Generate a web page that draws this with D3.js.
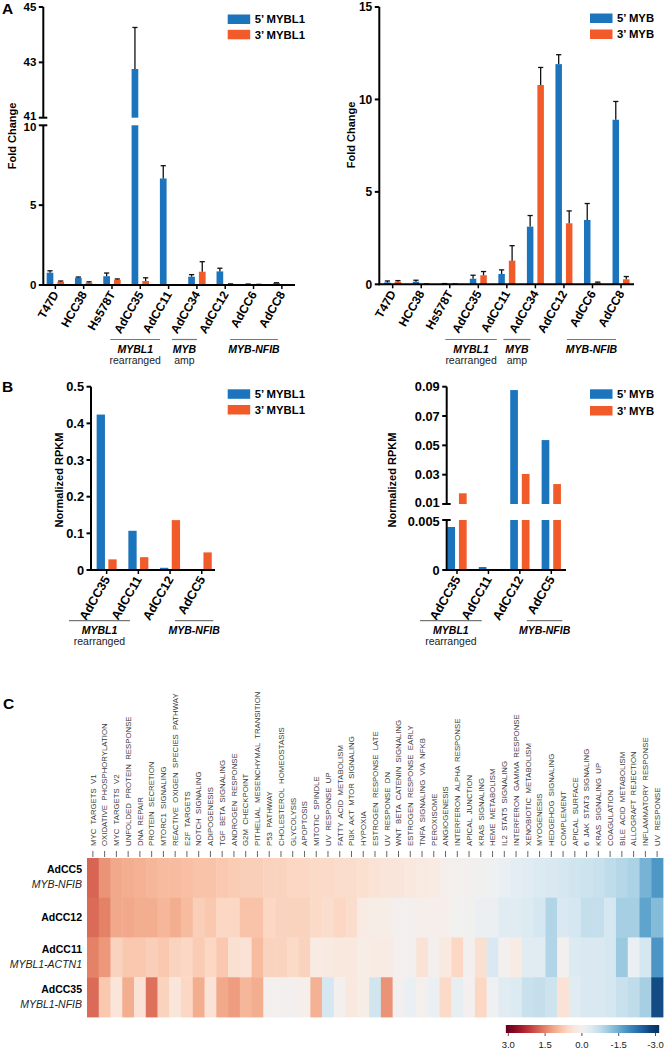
<!DOCTYPE html>
<html><head><meta charset="utf-8">
<script src="https://cdn.jsdelivr.net/npm/d3@7"></script>
<style>body{margin:0;background:#fff} text{font-family:Arial,"Liberation Sans",sans-serif}</style>
</head><body><svg id="c" width="664" height="1050"></svg>
<script>
// ---------- DATA ----------
const cellLines = ["T47D","HCC38","Hs578T","AdCC35","AdCC11","AdCC34","AdCC12","AdCC6","AdCC8"];
const mybl1Five = [0.77,0.45,0.55,42.76,6.67,0.52,0.85,0.04,0.12];
const mybl1FiveErr = [0.12,0.05,0.2,1.5,0.8,0.13,0.2,0.02,0.02];
const mybl1Three = [0.2,0.15,0.33,0.25,0,0.83,0.05,0.03,0.01];
const mybl1ThreeErr = [0.05,0.05,0.05,0.2,0,0.63,0.02,0.01,0.01];
const mybFive = [0.1,0.14,0.03,0.3,0.56,3.12,11.91,3.48,8.9];
const mybFiveErr = [0.08,0.08,0.01,0.19,0.22,0.6,0.51,0.89,0.99];
const mybThree = [0.14,0.01,0.01,0.49,1.28,10.78,3.3,0.09,0.27];
const mybThreeErr = [0.06,0.01,0.01,0.2,0.81,0.95,0.67,0.03,0.15];

const rnaSamples = ["AdCC35","AdCC11","AdCC12","AdCC5"];
const rpkmMybl1Five = [0.424,0.107,0.006,0];
const rpkmMybl1Three = [0.029,0.035,0.136,0.048];
const rpkmMybFive = [0.0043,0.0003,0.0877,0.0536];
const rpkmMybThree = [0.0173,0,0.0305,0.0236];

const ticksA1Low = [0,5,10], ticksA1High = [41,43,45];
const ticksA2 = [0,5,10,15];
const ticksB1 = [0,0.1,0.2,0.3,0.4,0.5];
const ticksB2Low = [0,0.005], ticksB2High = [0.01,0.03,0.05,0.07,0.09];

const pathways = ["MYC  TARGETS  V1","OXIDATIVE  PHOSPHORYLATION","MYC  TARGETS  V2","UNFOLDED  PROTEIN  RESPONSE","DNA  REPAIR","PROTEIN  SECRETION","MTORC1  SIGNALING","REACTIVE  OXIGEN  SPECIES  PATHWAY","E2F  TARGETS","NOTCH  SIGNALING","ADIPOGENESIS","TGF  BETA  SIGNALING","ANDROGEN  RESPONSE","G2M  CHECKPOINT","PITHELIAL  MESENCHYMAL  TRANSITION","P53  PATHWAY","CHOLESTEROL  HOMEOSTASIS","GLYCOLYSIS","APOPTOSIS","MITOTIC  SPINDLE","UV  RESPONSE  UP","FATTY  ACID  METABOLISM","PI3K  AKT  MTOR  SIGNALING","HYPOXIA","ESTROGEN  RESPONSE  LATE","UV  RESPONSE  DN","WNT  BETA  CATENIN  SIGNALING","ESTROGEN  RESPONSE  EARLY","TNFA  SIGNALING  VIA  NFKB","PEROXISOME","ANGIOGENESIS","INTERFERON  ALPHA  RESPONSE","APICAL  JUNCTION","KRAS  SIGNALING","HEME  METABOLISM","IL2  STAT5  SIGNALING","INTERFERON  GAMMA  RESPONSE","XENOBIOTIC  METABOLISM","MYOGENESIS","HEDGEHOG  SIGNALING","COMPLEMENT","APICAL  SURFACE","6  JAK  STAT3  SIGNALING","KRAS  SIGNALING  UP","COAGULATION","BILE  ACID  METABOLISM","ALLOGRAFT  REJECTION","INFLAMMATORY  RESPONSE","UV  RESPONSE"];
const rowSamples = ["AdCC5","AdCC12","AdCC11","AdCC35"];
const rowSubtypes = ["MYB-NFIB","","MYBL1-ACTN1","MYBL1-NFIB"];
const nesAdCC5 = [1.75,1.35,1.15,1.1,1.05,1.0,0.95,0.95,0.9,0.85, 0.85,0.8,0.75,0.7,0.7,0.65,0.65,0.6,0.6,0.55, 0.55,0.5,0.5,0.45,0.4,0.35,0.35,0.3,0.25,0.2, 0.1,0.05,0.0,-0.05,-0.1,-0.2,-0.3,-0.35,-0.4,-0.45, -0.5,-0.55,-0.6,-0.65,-0.75,-0.85,-0.95,-1.4,-1.75];
const nesAdCC12 = [1.7,1.5,1.15,1.15,1.1,1.1,1.0,1.1,0.95,0.7, 0.8,0.6,0.6,0.85,0.85,0.6,0.65,0.65,0.65,0.55, 0.5,0.6,0.5,0.2,0.15,0.15,0.0,0.0,0.1,0.1, 0.1,-0.05,-0.05,-0.15,-0.15,-0.35,-0.35,-0.4,-0.5,-0.9, -0.45,-0.5,-0.7,-0.7,-0.5,-1.0,-1.0,-1.6,-1.3];
const nesAdCC11 = [1.5,1.3,0.65,0.8,0.8,0.7,0.8,0.65,0.6,0.75, 0.6,0.8,0.45,0.4,0.95,0.65,0.65,0.55,0.65,0.2, 0.25,0.3,0.3,0.15,0.2,0.2,0.0,0.0,0.4,0.05, 0.25,0.6,0.0,0.45,-0.45,0.0,0.2,-0.35,-0.35,-0.9, 0.0,-0.4,-0.45,-0.45,-0.5,-1.1,-0.2,-0.5,-1.8];
const nesAdCC35 = [1.7,0.8,0.35,1.1,0.4,1.65,0.65,0.35,0.6,1.1, 0.4,1.15,1.25,1.0,1.1,0.0,0.05,0.0,0.1,1.05, -0.5,0.0,0.3,0.15,-0.55,1.35,0.0,-0.2,0.05,-0.2, 0.55,-0.25,0.0,0.6,-0.1,-0.35,-0.4,-0.65,-0.7,-0.6, 0.4,-0.35,-0.45,-0.45,-0.5,-0.65,-0.75,-1.0,-2.7];
const colorTicks = [3.0,1.5,0.0,-1.5,-3.0];

// ---------- DRAW ----------
const svg = d3.select("#c");
svg.append("rect").attr("width",664).attr("height",1050).attr("fill","#fff");
const BLUE = "#1c75bc", ORANGE = "#f15a29";

function barPanel(cfg) {
  const g = svg.append("g");
  const x = d3.scaleBand().domain(cfg.categories).range(cfg.xRange);
  const sub = d3.scalePoint().domain([0,1]).range([-cfg.sep/2, cfg.sep/2]);
  const segs = cfg.segments.map(s => Object.assign({}, s, {y: d3.scaleLinear().domain(s.d).range(s.r)}));
  const cx = c => x(c) + x.bandwidth()/2;
  const ax = cfg.axisX, y0 = segs[0].r[0];
  cfg.series.forEach((s, si) => {
    s.values.forEach((v, i) => {
      const c = cfg.categories[i];
      const bc = cx(c) + sub(si);
      segs.forEach(sg => {
        if (v > sg.d[0]) {
          const top = sg.y(Math.min(v, sg.d[1])), bot = sg.y(sg.d[0]);
          g.append("rect").attr("x", bc - cfg.barW/2).attr("y", top)
            .attr("width", cfg.barW).attr("height", Math.max(0.6, bot - top)).attr("fill", s.color);
        }
      });
      if (s.errors && s.errors[i] > 0) {
        const sg = segs.find(q => v >= q.d[0] && v <= q.d[1]);
        if (sg) {
          const yt = sg.y(v + s.errors[i]), yb = sg.y(v);
          g.append("line").attr("x1", bc).attr("x2", bc).attr("y1", yb).attr("y2", yt)
            .attr("stroke", "#111").attr("stroke-width", 1.3);
          g.append("line").attr("x1", bc - 2.6).attr("x2", bc + 2.6).attr("y1", yt).attr("y2", yt)
            .attr("stroke", "#111").attr("stroke-width", 1.3);
        }
      }
    });
  });
  // y axis segments
  segs.forEach((sg, k) => {
    g.append("line").attr("x1", ax).attr("x2", ax).attr("y1", sg.r[0] + (k === 0 ? 1 : 0)).attr("y2", sg.r[1])
      .attr("stroke", "#000").attr("stroke-width", 2);
    sg.ticks.forEach(t => {
      const yy = sg.y(t);
      const upperBreak = segs.length > 1 && k === 0 && t === sg.d[1];
      const lowerBreak = segs.length > 1 && k > 0 && t === sg.d[0];
      const isBreak = upperBreak || lowerBreak;
      const shift = upperBreak ? 1.8 : (lowerBreak ? -1.8 : 0);
      g.append("line").attr("x1", ax - 4.5).attr("x2", isBreak ? ax + 4 : ax).attr("y1", yy).attr("y2", yy)
        .attr("stroke", "#000").attr("stroke-width", 2);
      g.append("text").attr("x", ax - 7).attr("y", yy + shift).attr("dy", "0.36em").attr("text-anchor", "end")
        .attr("font-size", cfg.tickFont).attr("font-weight", "bold").text(cfg.fmt(t));
    });
  });
  // x axis
  g.append("line").attr("x1", ax - 1).attr("x2", cfg.xEnd).attr("y1", y0).attr("y2", y0)
    .attr("stroke", "#000").attr("stroke-width", 2);
  cfg.categories.forEach(c => {
    g.append("line").attr("x1", cx(c)).attr("x2", cx(c)).attr("y1", y0).attr("y2", y0 + 4)
      .attr("stroke", "#000").attr("stroke-width", 1.5);
    g.append("text").attr("transform", `translate(${cx(c)},${y0 + 7}) rotate(-60)`)
      .attr("dy", "0.36em").attr("text-anchor", "end").attr("font-size", cfg.xFont).attr("font-weight", "bold").text(c);
  });
  // y label
  g.append("text").attr("transform", `translate(${cfg.ylabel[0]},${cfg.ylabel[1]}) rotate(-90)`)
    .attr("text-anchor", "middle").attr("font-size", 11).attr("font-weight", "bold").text(cfg.ylabel[2]);
  // legend
  cfg.series.forEach((s, si) => {
    const ly = cfg.legend[1] + si * cfg.legend[3];
    g.append("rect").attr("x", cfg.legend[0]).attr("y", ly).attr("width", 22.5).attr("height", 9.5).attr("fill", s.color);
    g.append("text").attr("x", cfg.legend[0] + 27).attr("y", ly + 4.8).attr("dy", "0.36em")
      .attr("font-size", 11.3).attr("font-weight", "bold").text(s.name);
  });
  // group annotations
  cfg.groups.forEach(gr => {
    const x1 = cx(gr.from) + gr.o[0], x2 = cx(gr.to) + gr.o[1], mid = (x1 + x2) / 2;
    g.append("line").attr("x1", x1).attr("x2", x2).attr("y1", cfg.groupY).attr("y2", cfg.groupY)
      .attr("stroke", "#777").attr("stroke-width", 1.2);
    g.append("text").attr("x", mid).attr("y", cfg.groupY + 13.5).attr("text-anchor", "middle")
      .attr("font-size", 10.5).attr("font-weight", "bold").attr("font-style", "italic").text(gr.name);
    if (gr.sub) g.append("text").attr("x", mid).attr("y", cfg.groupY + 24.5).attr("text-anchor", "middle")
      .attr("font-size", 10.5).attr("fill", "#222").text(gr.sub);
  });
}

const intFmt = d => String(d);
barPanel({
  categories: cellLines, xRange: [41.2, 296], xEnd: 295, axisX: 43.3, sep: 10.7, barW: 6.7,
  tickFont: 11.5, xFont: 12,
  segments: [{d:[0,10], r:[285,125.3], ticks: ticksA1Low}, {d:[41,45], r:[117.7,7], ticks: ticksA1High}],
  series: [{name:"5\u2019 MYBL1", color: BLUE, values: mybl1Five, errors: mybl1FiveErr},
           {name:"3\u2019 MYBL1", color: ORANGE, values: mybl1Three, errors: mybl1ThreeErr}],
  fmt: intFmt, ylabel: [16, 136, "Fold Change"], legend: [227.7, 14.5, 0, 15.3],
  groupY: 339.5,
  groups: [{from:"AdCC35", to:"AdCC11", o:[-30,-8.5], name:"MYBL1", sub:"rearranged"},
           {from:"AdCC34", to:"AdCC34", o:[-25,0], name:"MYB", sub:"amp"},
           {from:"AdCC12", to:"AdCC8", o:[5,-4], name:"MYB-NFIB", sub:""}]
});
barPanel({
  categories: cellLines, xRange: [378.4, 635.3], xEnd: 634, axisX: 379.3, sep: 10.5, barW: 6.5,
  tickFont: 12, xFont: 12,
  segments: [{d:[0,15], r:[284.3,7], ticks: ticksA2}],
  series: [{name:"5\u2019 MYB", color: BLUE, values: mybFive, errors: mybFiveErr},
           {name:"3\u2019 MYB", color: ORANGE, values: mybThree, errors: mybThreeErr}],
  fmt: intFmt, ylabel: [354.5, 135, "Fold Change"], legend: [590, 13.5, 0, 16],
  groupY: 339.5,
  groups: [{from:"AdCC35", to:"AdCC11", o:[-33,-10], name:"MYBL1", sub:"rearranged"},
           {from:"AdCC34", to:"AdCC34", o:[-32,-5], name:"MYB", sub:"amp"},
           {from:"AdCC12", to:"AdCC8", o:[3,-5], name:"MYB-NFIB", sub:""}]
});
barPanel({
  categories: rnaSamples, xRange: [90.8, 217.6], xEnd: 215, axisX: 91, sep: 11.7, barW: 8.3,
  tickFont: 12.8, xFont: 12.5,
  segments: [{d:[0,0.5], r:[570,386.7], ticks: ticksB1}],
  series: [{name:"5\u2019 MYBL1", color: BLUE, values: rpkmMybl1Five},
           {name:"3\u2019 MYBL1", color: ORANGE, values: rpkmMybl1Three}],
  fmt: d => d === 0 ? "0" : d3.format(".1f")(d), ylabel: [62.5, 480, "Normalized RPKM"], legend: [227.7, 389.3, 0, 15.7],
  groupY: 620.7,
  groups: [{from:"AdCC35", to:"AdCC11", o:[-37.7,-8.4], name:"MYBL1", sub:"rearranged"},
           {from:"AdCC12", to:"AdCC5", o:[5,11.5], name:"MYB-NFIB", sub:""}]
});
barPanel({
  categories: rnaSamples, xRange: [441.3, 567], xEnd: 566, axisX: 446.7, sep: 11.6, barW: 7.7,
  tickFont: 12.8, xFont: 12.5,
  segments: [{d:[0,0.005], r:[570,520], ticks: ticksB2Low}, {d:[0.01,0.09], r:[504,386.7], ticks: ticksB2High}],
  series: [{name:"5\u2019 MYB", color: BLUE, values: rpkmMybFive},
           {name:"3\u2019 MYB", color: ORANGE, values: rpkmMybThree}],
  fmt: d => d === 0 ? "0" : String(d), ylabel: [396, 480, "Normalized RPKM"], legend: [590, 389.3, 0, 16.7],
  groupY: 620.7,
  groups: [{from:"AdCC35", to:"AdCC11", o:[-37,-6.7], name:"MYBL1", sub:"rearranged"},
           {from:"AdCC12", to:"AdCC5", o:[7,11], name:"MYB-NFIB", sub:""}]
});

// panel letters
[["A",2,14],["B",2,392],["C",3,709]].forEach(p => svg.append("text").attr("x",p[1]).attr("y",p[2])
  .attr("font-size",15.5).attr("font-weight","bold").text(p[0]));

// ---------- HEATMAP ----------
const nesRows = [nesAdCC5, nesAdCC12, nesAdCC11, nesAdCC35];
const hx = d3.scaleBand().domain(pathways).range([87, 663]);
const hy = d3.scaleBand().domain(rowSamples).range([858, 1017]);
const color = d3.scaleSequential(d3.interpolateRdBu).domain([3, -3]);
const hg = svg.append("g");
rowSamples.forEach((r, ri) => {
  pathways.forEach((p, pi) => {
    hg.append("rect").attr("x", hx(p)).attr("y", hy(r)).attr("width", hx.bandwidth() + 0.4)
      .attr("height", hy.bandwidth() + 0.4).attr("fill", color(nesRows[ri][pi]));
  });
  const cy = hy(r) + hy.bandwidth() / 2;
  if (rowSubtypes[ri]) {
    hg.append("text").attr("x", 82).attr("y", cy - 4.5).attr("text-anchor", "end").attr("font-size", 10.5)
      .attr("font-weight", "bold").text(r);
    hg.append("text").attr("x", 82).attr("y", cy + 10.5).attr("text-anchor", "end").attr("font-size", 10.5)
      .attr("font-style", "italic").attr("fill", "#222").text(rowSubtypes[ri]);
  } else {
    hg.append("text").attr("x", 82).attr("y", cy + 3.5).attr("text-anchor", "end").attr("font-size", 10.5)
      .attr("font-weight", "bold").text(r);
  }
});
pathways.forEach(p => {
  const c = hx(p) + hx.bandwidth() / 2;
  hg.append("line").attr("x1", c).attr("x2", c).attr("y1", 851).attr("y2", 857).attr("stroke", "#666").attr("stroke-width", 1);
  hg.append("text").attr("transform", `translate(${c + 2.8},846) rotate(-90)`).attr("font-size", 7.8)
    .attr("fill", "#3a3a3a").style("white-space", "pre").text(p);
});

// color legend
const lx = d3.scaleLinear().domain([3, -3]).range([508.3, 655.5]);
const defs = svg.append("defs");
const grad = defs.append("linearGradient").attr("id", "rdbu").attr("x1", "0%").attr("x2", "100%");
d3.range(0, 1.0001, 0.05).forEach(t => {
  const v = lx.invert(lx(3.1) + t * (lx(-3.15) - lx(3.1)));
  grad.append("stop").attr("offset", (t * 100) + "%").attr("stop-color", color(Math.max(-3, Math.min(3, v))));
});
svg.append("rect").attr("x", lx(3.1)).attr("y", 1025).attr("width", lx(-3.15) - lx(3.1)).attr("height", 8)
  .attr("fill", "url(#rdbu)");
colorTicks.forEach(t => {
  svg.append("line").attr("x1", lx(t)).attr("x2", lx(t)).attr("y1", 1033).attr("y2", 1036).attr("stroke", "#555");
  svg.append("text").attr("x", lx(t)).attr("y", 1048).attr("text-anchor", "middle").attr("font-size", 9.5)
    .attr("fill", "#222").text(d3.format(".1f")(t).replace("\u2212", "-"));
});
</script></body></html>
